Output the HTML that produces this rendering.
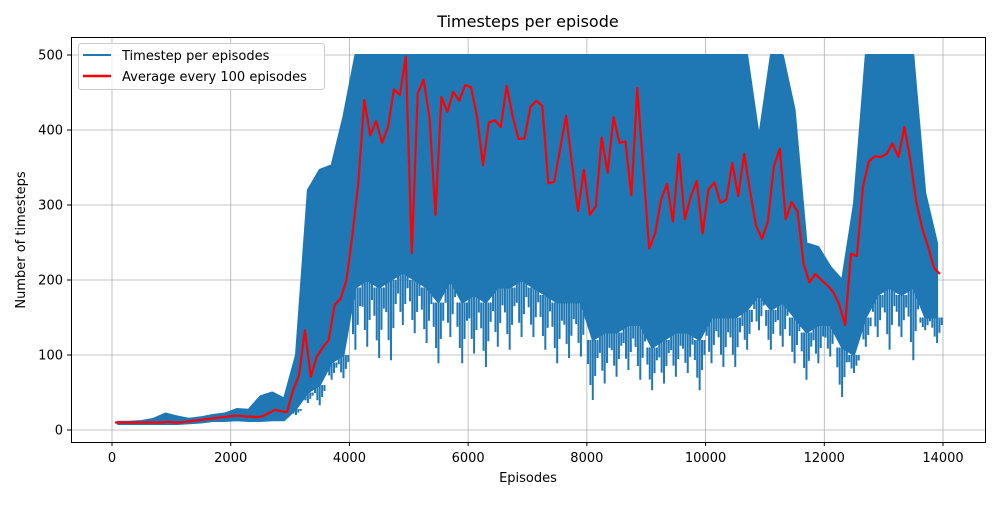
<!DOCTYPE html>
<html><head><meta charset="utf-8"><style>
body{margin:0;background:#fff;}
svg text{font-family:"DejaVu Sans","Liberation Sans",sans-serif;}
</style></head><body>
<svg id="chart" width="1000" height="500" viewBox="0 0 1000 500" xmlns="http://www.w3.org/2000/svg">
<rect width="1000" height="500" fill="#fff"/>
<g id="grid"></g>
<g id="series"></g>
<rect x="71.5" y="37.5" width="914" height="405" fill="none" stroke="#000" stroke-width="1"/>
<g id="axes"></g>
<text x="528" y="27" font-size="16" text-anchor="middle">Timesteps per episode</text>
<text x="528" y="482" font-size="13" text-anchor="middle">Episodes</text>
<text x="25" y="240" font-size="13" text-anchor="middle" transform="rotate(-90 25 240)">Number of timesteps</text>
<g>
<rect x="78.5" y="43.5" width="246" height="46" rx="3" fill="#fff" fill-opacity="0.8" stroke="#ccc"/>
<line x1="83" y1="55" x2="111" y2="55" stroke="#1f77b4" stroke-width="2"/>
<text x="122" y="60" font-size="13">Timestep per episodes</text>
<line x1="83" y1="76" x2="111" y2="76" stroke="red" stroke-width="2.5"/>
<text x="122" y="81" font-size="13">Average every 100 episodes</text>
</g>
</svg>
<script>
const xTicks=[0,2000,4000,6000,8000,10000,12000,14000];
const yTicks=[0,100,200,300,400,500];
const binSize=200;
const blueLow=[8,8,8,8,8,8,9,10,12,12,13,12,12,13,13,20,36,33,67,69,107,111,96,93,140,129,116,89,124,89,102,84,111,107,124,124,107,89,96,98,40,62,71,80,67,53,62,71,76,53,89,84,84,107,133,107,111,89,67,89,98,44,76,111,124,107,124,93,133,116];
const blueCore=[8,8,8,8,8,8,9,10,12,12,13,12,12,13,13,28,50,60,90,100,190,200,190,200,210,200,190,170,200,170,180,170,190,190,200,190,180,170,170,170,120,130,130,140,140,110,120,130,130,120,150,150,150,160,180,160,170,150,130,140,140,110,100,150,180,190,180,190,150,150];
const blueHigh=[11,11,12,15,22,18,15,17,20,22,28,27,45,50,42,100,320,347,353,418,500,500,500,500,500,500,500,500,500,500,500,500,500,500,500,500,500,500,500,500,500,500,500,500,500,500,500,500,500,500,500,500,500,500,390,500,500,427,249,244,218,200,302,500,500,500,500,500,316,249];
const avgStep=100;
const avgValues=[10,10,10,10,10,10,10,10,10,11,10,10,11,12,13,14,15,16,17,18,19,19,18,18,17,19,23,27,25,24,53,73,133,71,98,110,120,167,175,200,260,329,440,393,412,383,404,454,447,498,236,449,467,416,287,444,424,451,439,460,457,418,353,410,413,404,459,418,388,389,431,439,432,329,331,375,419,355,292,347,287,298,390,343,417,383,385,313,456,350,242,262,307,328,278,368,281,311,332,262,321,330,303,307,356,312,368,318,273,255,278,351,375,281,304,291,222,197,208,200,193,184,168,140,235,232,324,358,365,364,368,382,364,404,360,304,269,244,216,208];
const NS="http://www.w3.org/2000/svg";
const X=v=>112+v*(831/14000);
const Y=v=>430-v*0.75;
function mk(tag,attrs,parent){const e=document.createElementNS(NS,tag);for(const k in attrs)e.setAttribute(k,attrs[k]);parent.appendChild(e);return e;}
const gridG=document.getElementById('grid'),axesG=document.getElementById('axes'),seriesG=document.getElementById('series');
xTicks.forEach(t=>{
 const g=mk('line',{x1:X(t),x2:X(t),y1:37,y2:442,stroke:'#b0b0b0','stroke-width':0.8},gridG);
 
 
 const tk=mk('line',{x1:X(t),x2:X(t),y1:442,y2:446,stroke:'#000'},axesG);
 
 
 const l=mk('text',{x:X(t),y:462,'font-size':13,'text-anchor':'middle'},axesG);l.textContent=t;
 
 
});
yTicks.forEach(t=>{
 const g=mk('line',{x1:71,x2:985,y1:Y(t),y2:Y(t),stroke:'#b0b0b0','stroke-width':0.8},gridG);
 
 
 const tk=mk('line',{x1:67,x2:71,y1:Y(t),y2:Y(t),stroke:'#000'},axesG);
 
 
 const l=mk('text',{x:63,y:Y(t)+4.5,'font-size':13,'text-anchor':'end'},axesG);l.textContent=t;
 
 
});
let topPts=[],botPts=[];
blueHigh.forEach((v,i)=>{topPts.push(X(i*binSize+binSize/2).toFixed(1)+','+Y(v).toFixed(1));});
blueCore.forEach((v,i)=>{botPts.push(X(i*binSize+binSize/2).toFixed(1)+','+Y(v).toFixed(1));});
const band=mk('polygon',{points:topPts.concat(botPts.reverse()).join(' '),fill:'#1f77b4',stroke:'#1f77b4','stroke-width':2,'stroke-linejoin':'round'},seriesG);


const spikeDepth=[0.4,0.75,1,0.6,0.3];
blueLow.forEach((v,i)=>{
 spikeDepth.forEach((d,j)=>{
  const f=(j+0.5)/spikeDepth.length;
  const lo=blueCore[i]+(v-blueCore[i])*d;
  const s=mk('line',{x1:X(i*binSize+binSize*f),x2:X(i*binSize+binSize*f),y1:Y(blueCore[i]),y2:Y(lo),stroke:'#1f77b4','stroke-width':2},seriesG);
  
  
 });
});
const avgPts=avgValues.map((v,i)=>X(i*avgStep+50).toFixed(1)+','+Y(v).toFixed(1)).join(' ');
const avg=mk('polyline',{points:avgPts,fill:'none',stroke:'red','stroke-width':2.2,'stroke-linejoin':'round'},seriesG);


</script>
</body></html>
